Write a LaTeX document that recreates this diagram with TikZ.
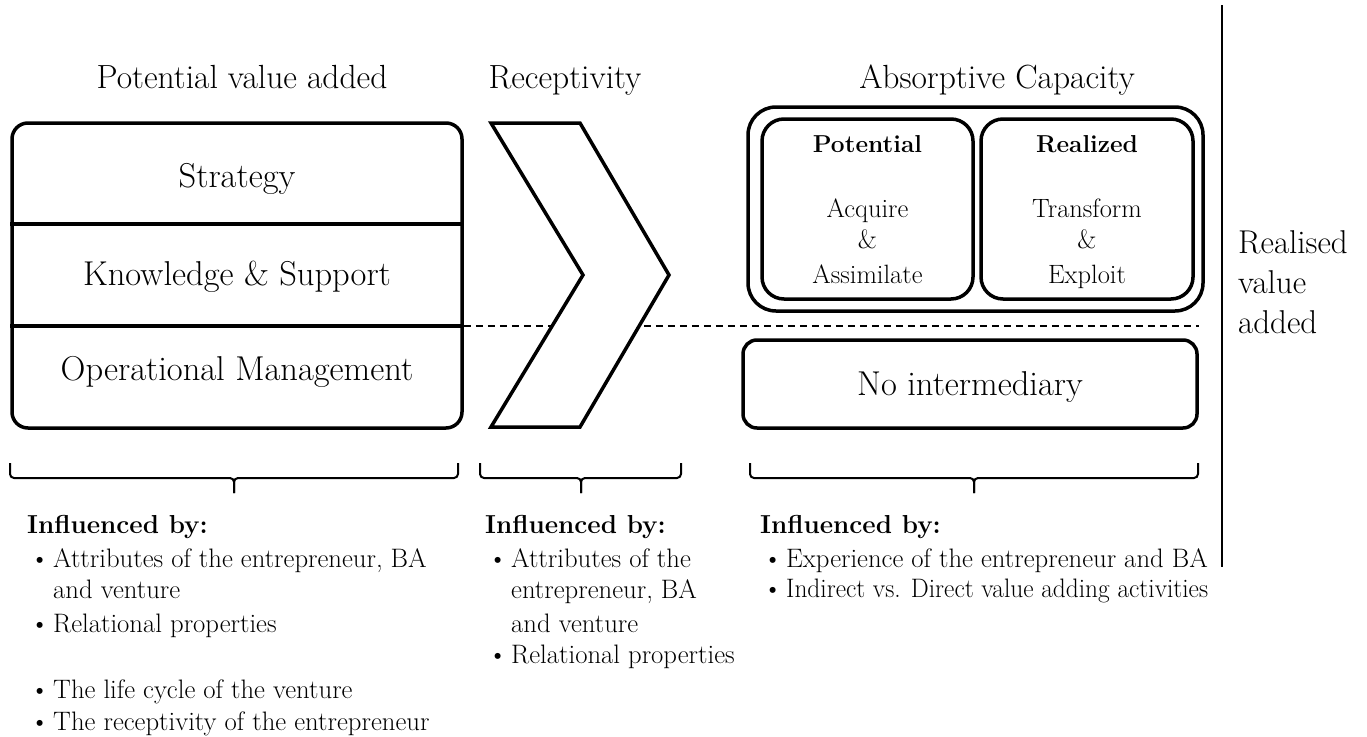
\documentclass[tikz,border=0pt]{standalone}
\usepackage{fontspec}
\usepackage{graphicx}
\begin{document}
\begin{tikzpicture}[x=1pt,y=-1pt,
  box/.style={draw, line width=3.5pt, fill=white, inner sep=0pt},
  bar/.style={line width=3.5pt},
  brace/.style={line width=2pt, rounded corners=4pt},
  sep/.style={line width=1.5pt, dash pattern=on 7pt off 5pt},
  big/.style={font=\fontsize{34.5}{40}\selectfont},
  head/.style={font=\fontsize{33.5}{40}\selectfont},
  mid/.style={font=\fontsize{26.5}{30}\selectfont},
  txt/.style={anchor=base west, inner sep=0pt, font=\fontsize{26.7}{30}\selectfont},
  ttl/.style={anchor=base, inner sep=0pt, head},
  lbl/.style={anchor=base, inner sep=0pt}]
\useasboundingbox (0,0) rectangle (1367,736);

% column titles
\node[ttl] (t1) at (242,88) {Potential value added};
\node[ttl] (t2) at (565,88) {Receptivity};
\node[ttl] (t3) at (997,88) {Absorptive Capacity};

% potential value added block
\node[box, rounded corners=16pt, minimum width=450pt, minimum height=305pt] (pva) at (237,275.5) {};
\coordinate (d1) at (0,224);
\coordinate (d2) at (0,326);
\draw[bar] (pva.west |- d1) -- (pva.east |- d1);
\draw[bar] (pva.west |- d2) -- (pva.east |- d2);
\node[lbl, big] (s1) at (237,187) {Strategy};
\node[lbl, big] (s2) at (237,285) {Knowledge \& Support};
\node[lbl, big] (s3) at (237,380) {Operational Management};

% no intermediary and dashed split
\node[box, rounded corners=14pt, minimum width=454pt, minimum height=88pt] (noint) at (970,384) {};
\node[lbl, big] (nt) at (970,395) {No intermediary};
\draw[sep] (pva.east |- d2) -- (noint.east |- d2);

% receptivity chevron
\draw[line width=3.5pt, fill=white, line join=miter]
  (491,123) -- (580,123) -- (669,275) -- (580,427) -- (491,427) -- (583,275) -- cycle;

% absorptive capacity
\node[box, rounded corners=28pt, minimum width=455pt, minimum height=204pt] (acap) at (975.5,209) {};
\node[box, rounded corners=22pt, minimum width=211pt, minimum height=180pt] (pot) at (867.5,209) {};
\node[box, rounded corners=22pt, minimum width=212pt, minimum height=180pt] (rea) at (1087,209) {};
\node[lbl, font=\fontsize{24.5}{30}\selectfont] (p1) at (pot.center |- 0,152) {\bfseries Potential};
\node[lbl, mid] (p2) at (pot.center |- 0,217) {Acquire};
\node[lbl, mid] (p3) at (pot.center |- 0,248) {\&};
\node[lbl, mid] (p4) at (pot.center |- 0,283) {Assimilate};
\node[lbl, font=\fontsize{24.5}{30}\selectfont] (r1) at (rea.center |- 0,152) {\bfseries Realized};
\node[lbl, mid] (r2) at (rea.center |- 0,217) {Transform};
\node[lbl, mid] (r3) at (rea.center |- 0,248) {\&};
\node[lbl, mid] (r4) at (rea.center |- 0,283) {Exploit};

% realised value added
\coordinate (vtop) at (1222,5);
\coordinate (vbot) at (1222,567);
\draw[line width=2pt] (vtop) -- (vbot);
\node[txt, font=\fontsize{33}{36}\selectfont] (v1) at (1238,253) {Realised};
\node[txt, font=\fontsize{33}{36}\selectfont] (v2) at (1238,293) {value};
\node[txt, font=\fontsize{33}{36}\selectfont] (v3) at (1238,333) {added};

% braces
\draw[brace] (10,463) -- (10,478) -- (234,478) -- (234,493);
\draw[brace] (234,493) -- (234,478) -- (458,478) -- (458,463);
\draw[brace] (480,463) -- (480,478) -- (581,478) -- (581,493);
\draw[brace] (581,493) -- (581,478) -- (681,478) -- (681,463);
\draw[brace] (750,463) -- (750,478) -- (974,478) -- (974,493);
\draw[brace] (974,493) -- (974,478) -- (1198,478) -- (1198,463);

% influence lists
\newcommand\bul{\hspace*{3pt}\makebox[23pt][l]{\textbullet}}
\newcommand\ind{\hspace*{26pt}}
\tikzset{hd/.style={txt, font=\fontsize{26}{30}\selectfont\bfseries}}
\node[hd] (a0) at (27,533) {Influenced by:};
\node[txt] (a1) at (27,567) {\bul Attributes of the entrepreneur, BA};
\node[txt] (a2) at (27,598) {\ind and venture};
\node[txt] (a3) at (27,632) {\bul Relational properties};
\node[txt] (a4) at (27,698) {\bul The life cycle of the venture};
\node[txt] (a5) at (27,730) {\bul The receptivity of the entrepreneur};

\node[hd] (b0) at (485,533) {Influenced by:};
\node[txt] (b1) at (485,567) {\bul Attributes of the};
\node[txt] (b2) at (485,598) {\ind entrepreneur, BA};
\node[txt] (b3) at (485,632) {\ind and venture};
\node[txt] (b4) at (485,663) {\bul Relational properties};

\node[hd] (c0) at (760,533) {Influenced by:};
\node[txt] (c1) at (760,567) {\bul Experience of the entrepreneur and BA};
\node[txt] (c2) at (760,597) {\bul \scalebox{0.95}[1]{Indirect vs. Direct value adding activities}};
\end{tikzpicture}
\end{document}
